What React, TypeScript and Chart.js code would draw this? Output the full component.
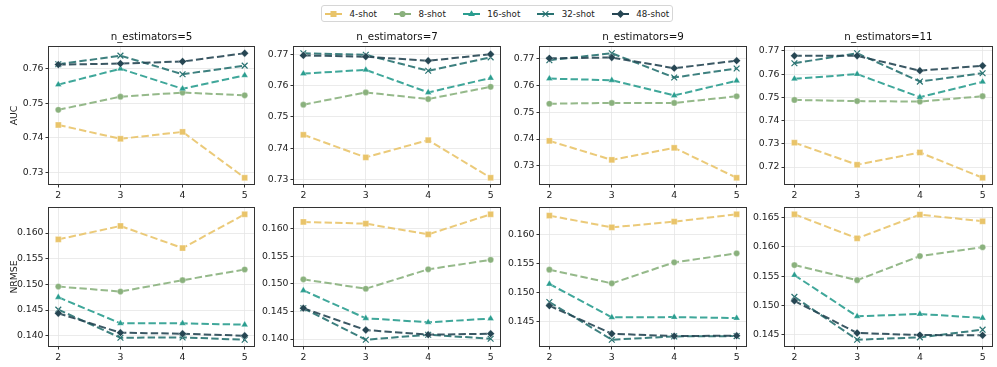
import React, { useEffect, useRef } from "react";
import { Chart, registerables } from "chart.js";
Chart.register(...registerables);

// ---------------- data ----------------
const xValues = [2, 3, 4, 5];
const shotLabels = ["4-shot", "8-shot", "16-shot", "32-shot", "48-shot"];
const estimators = [5, 7, 9, 11];

// AUC, one list per shot setting, values at x = 2,3,4,5
const auc_n5 = [
  [0.7437, 0.7397, 0.7417, 0.7284],
  [0.7481, 0.7519, 0.7531, 0.7523],
  [0.7554, 0.76, 0.7542, 0.7581],
  [0.7613, 0.7638, 0.7584, 0.7609],
  [0.7612, 0.7615, 0.7621, 0.7645],
];
const auc_n7 = [
  [0.7443, 0.7371, 0.7426, 0.7306],
  [0.7539, 0.7578, 0.7557, 0.7596],
  [0.7638, 0.765, 0.7578, 0.7624],
  [0.7703, 0.7698, 0.7647, 0.769],
  [0.7696, 0.7692, 0.7679, 0.77],
];
const auc_n9 = [
  [0.7393, 0.7322, 0.7367, 0.7255],
  [0.7532, 0.7535, 0.7535, 0.756],
  [0.7626, 0.762, 0.7563, 0.7618],
  [0.7695, 0.7721, 0.763, 0.7664],
  [0.7702, 0.7705, 0.7665, 0.7693],
];
const auc_n11 = [
  [0.7305, 0.721, 0.7263, 0.7154],
  [0.7489, 0.7484, 0.7482, 0.7505],
  [0.758, 0.76, 0.7501, 0.7567],
  [0.7647, 0.769, 0.7568, 0.7604],
  [0.7679, 0.7679, 0.7615, 0.7636],
];

// NRMSE
const nrmse_n5 = [
  [0.15876, 0.16137, 0.15707, 0.16365],
  [0.14958, 0.1486, 0.15081, 0.1529],
  [0.14749, 0.14241, 0.14241, 0.14215],
  [0.14508, 0.13961, 0.13967, 0.13922],
  [0.14437, 0.14059, 0.14039, 0.14],
];
const nrmse_n7 = [
  [0.16122, 0.16091, 0.15897, 0.16261],
  [0.15082, 0.14912, 0.15264, 0.15435],
  [0.14881, 0.14377, 0.14304, 0.14371],
  [0.14559, 0.13988, 0.14079, 0.14006],
  [0.14559, 0.14164, 0.14079, 0.14097],
];
const nrmse_n9 = [
  [0.16328, 0.16126, 0.16224, 0.16351],
  [0.15397, 0.15161, 0.15523, 0.15678],
  [0.1515, 0.14575, 0.1458, 0.14563],
  [0.14839, 0.1419, 0.14247, 0.14253],
  [0.14776, 0.14293, 0.14253, 0.14259],
];
const nrmse_n11 = [
  [0.16557, 0.16146, 0.16551, 0.16437],
  [0.15689, 0.15431, 0.15843, 0.15994],
  [0.15517, 0.14814, 0.14854, 0.14786],
  [0.15146, 0.14414, 0.14454, 0.14586],
  [0.15077, 0.14529, 0.14494, 0.14489],
];

// tick values
const aucTicks = [
  [0.73, 0.74, 0.75, 0.76],
  [0.73, 0.74, 0.75, 0.76, 0.77],
  [0.73, 0.74, 0.75, 0.76, 0.77],
  [0.72, 0.73, 0.74, 0.75, 0.76, 0.77],
];
const nrmseTicks = [
  [0.14, 0.145, 0.15, 0.155, 0.16],
  [0.14, 0.145, 0.15, 0.155, 0.16],
  [0.145, 0.15, 0.155, 0.16],
  [0.145, 0.15, 0.155, 0.16, 0.165],
];

const aucData = [auc_n5, auc_n7, auc_n9, auc_n11];
const nrmseData = [nrmse_n5, nrmse_n7, nrmse_n9, nrmse_n11];

// ---------------- styles ----------------
const shotColors = ["#E9C46A", "#8AB17D", "#2A9D8F", "#287271", "#264653"];
const shotMarkers = ["rect", "circle", "triangle", "crossRot", "rectRot"];
const markerRadius: Record<string, number> = {
  rect: 4.2,
  circle: 3.1,
  triangle: 3.9,
  crossRot: 4.1,
  rectRot: 3.9,
};
const FONT = "'DejaVu Sans', 'Liberation Sans', sans-serif";
const colLeft = [49, 294, 540, 785];
const colRight = [254, 500, 746, 992];
const rowTop = [47, 208];
const rowBottom = [184, 346];
const topSpace = [24, 12];
const Y_W = 49;
const X_H = 20;
const RIGHT_PAD = 6;

function rgba(hex: string, a: number) {
  const n = parseInt(hex.slice(1), 16);
  return `rgba(${(n >> 16) & 255},${(n >> 8) & 255},${n & 255},${a})`;
}

const framePlugin = {
  id: "frame",
  afterDatasetsDraw(chart: any) {
    const { ctx, chartArea: a } = chart;
    ctx.save();
    ctx.strokeStyle = "#333333";
    ctx.lineWidth = 1;
    const l = Math.round(a.left) - 0.5;
    const t = Math.round(a.top) - 0.5;
    const r = Math.round(a.right) + 0.5;
    const b = Math.round(a.bottom) + 0.5;
    ctx.strokeRect(l, t, r - l, b - t);
    ctx.restore();
  },
};

function withMargin(series: number[][]) {
  const all = series.flat();
  const mn = Math.min(...all);
  const mx = Math.max(...all);
  const m = (mx - mn) * 0.05;
  return [mn - m, mx + m];
}

type PanelProps = {
  row: number;
  col: number;
  series: number[][];
  ticks: number[];
  decimals: number;
  yTitle: string;
  title?: string;
};

function Panel({ row, col, series, ticks, decimals, yTitle, title }: PanelProps) {
  const ref = useRef<HTMLCanvasElement | null>(null);
  const plotW = colRight[col] - colLeft[col];
  const plotH = rowBottom[row] - rowTop[row];
  const width = Y_W + plotW + RIGHT_PAD;
  const height = topSpace[row] + plotH + X_H;
  const left = colLeft[col] - Y_W;
  const top = rowTop[row] - topSpace[row];

  useEffect(() => {
    if (!ref.current) return;
    const [ymin, ymax] = withMargin(series);
    const xr = xValues[xValues.length - 1] - xValues[0];
    const xmin = xValues[0] - xr * 0.05;
    const xmax = xValues[xValues.length - 1] + xr * 0.05;
    const tickFont = { family: FONT, size: 9.3 };
    const chart = new Chart(ref.current, {
      type: "line",
      data: {
        datasets: series.map((vals, i) => {
          const ms = shotMarkers[i];
          const cross = ms === "crossRot";
          return {
            label: shotLabels[i],
            data: xValues.map((x, j) => ({ x, y: vals[j] })),
            borderColor: rgba(shotColors[i], 0.9),
            backgroundColor: shotColors[i],
            borderWidth: 2,
            borderDash: [7.4, 3.2],
            tension: 0,
            fill: false,
            pointStyle: ms as any,
            pointRadius: markerRadius[ms],
            pointBackgroundColor: shotColors[i],
            pointBorderColor: cross ? shotColors[i] : "rgba(255,255,255,0.55)",
            pointBorderWidth: cross ? 1.2 : 0.6,
            order: series.length - 1 - i,
          };
        }),
      },
      options: {
        animation: false,
        responsive: false,
        devicePixelRatio: 1,
        layout: { padding: { left: 0, right: RIGHT_PAD, top: row === 0 ? 0 : topSpace[row], bottom: 0 } },
        plugins: {
          legend: { display: false },
          tooltip: { enabled: false },
          title: {
            display: !!title,
            text: title || "",
            fullSize: false,
            color: "#111",
            font: { family: FONT, size: 10.3, weight: "normal" as any, lineHeight: 1.2 },
            padding: { top: 8, bottom: topSpace[0] - 8 - 10.3 * 1.2 },
          },
        },
        scales: {
          x: {
            type: "linear",
            min: xmin,
            max: xmax,
            afterBuildTicks: (s: any) => {
              s.ticks = xValues.map((v) => ({ value: v }));
            },
            afterFit: (s: any) => {
              s.height = X_H;
            },
            ticks: {
              font: tickFont,
              color: "#222",
              padding: 3,
              maxRotation: 0,
              callback: (v: any) => String(v),
            },
            grid: { color: "#e6e6e6", lineWidth: 0.8, tickColor: "#333", tickLength: 3.5, tickWidth: 1 },
            border: { display: false },
          },
          y: {
            type: "linear",
            min: ymin,
            max: ymax,
            afterBuildTicks: (s: any) => {
              s.ticks = ticks.map((v) => ({ value: v }));
            },
            afterFit: (s: any) => {
              s.width = Y_W;
            },
            ticks: {
              font: tickFont,
              color: "#222",
              padding: 2,
              callback: (v: any) => Number(v).toFixed(decimals),
            },
            title: {
              display: col === 0,
              text: yTitle,
              color: "#222",
              font: { family: FONT, size: 9.3 },
              padding: { top: 9.4, bottom: 0 },
            },
            grid: { color: "#e6e6e6", lineWidth: 0.8, tickColor: "#333", tickLength: 3.5, tickWidth: 1 },
            border: { display: false },
          },
        },
      },
      plugins: [framePlugin],
    } as any);
    return () => chart.destroy();
  }, []);

  return (
    <canvas
      ref={ref}
      width={width}
      height={height}
      style={{ position: "absolute", left, top, width, height }}
    />
  );
}

function LegendMarker({ i }: { i: number }) {
  const c = shotColors[i];
  const ms = shotMarkers[i];
  let mark: React.ReactNode = null;
  if (ms === "rect") mark = <rect x={5.5} y={2} width={6} height={6} fill={c} />;
  else if (ms === "circle") mark = <circle cx={8.5} cy={5} r={3.1} fill={c} />;
  else if (ms === "triangle") mark = <polygon points="8.5,1.2 11.9,7 5.1,7" fill={c} />;
  else if (ms === "crossRot")
    mark = (
      <g stroke={c} strokeWidth={1.2}>
        <line x1={5.6} y1={2.1} x2={11.4} y2={7.9} />
        <line x1={5.6} y1={7.9} x2={11.4} y2={2.1} />
      </g>
    );
  else mark = <polygon points="8.5,1.1 12.4,5 8.5,8.9 4.6,5" fill={c} />;
  return (
    <svg width={17} height={10} style={{ display: "block" }}>
      <line x1={0} y1={5} x2={17} y2={5} stroke={c} strokeWidth={2} />
      {mark}
    </svg>
  );
}

export default function App() {
  return (
    <div style={{ position: "absolute", left: 0, top: 0, width: 997, height: 367, background: "#fff", overflow: "hidden" }}>
      <div
        style={{
          position: "absolute",
          left: 321,
          top: 5,
          height: 15,
          display: "flex",
          alignItems: "center",
          border: "1px solid #d6d6d6",
          borderRadius: 3,
          padding: "0 3px 0 3px",
          background: "#fff",
          fontFamily: FONT,
          fontSize: 8.7,
          color: "#222",
          whiteSpace: "nowrap",
        }}
      >
        {shotLabels.map((lab, i) => (
          <div key={lab} style={{ display: "flex", alignItems: "center", marginRight: i < shotLabels.length - 1 ? 17 : 0 }}>
            <LegendMarker i={i} />
            <span style={{ marginLeft: 7.5 }}>{lab}</span>
          </div>
        ))}
      </div>
      {estimators.map((n, c) => (
        <Panel
          key={"auc" + n}
          row={0}
          col={c}
          series={aucData[c]}
          ticks={aucTicks[c]}
          decimals={2}
          yTitle="AUC"
          title={`n_estimators=${n}`}
        />
      ))}
      {estimators.map((n, c) => (
        <Panel
          key={"nrmse" + n}
          row={1}
          col={c}
          series={nrmseData[c]}
          ticks={nrmseTicks[c]}
          decimals={3}
          yTitle="NRMSE"
        />
      ))}
    </div>
  );
}
